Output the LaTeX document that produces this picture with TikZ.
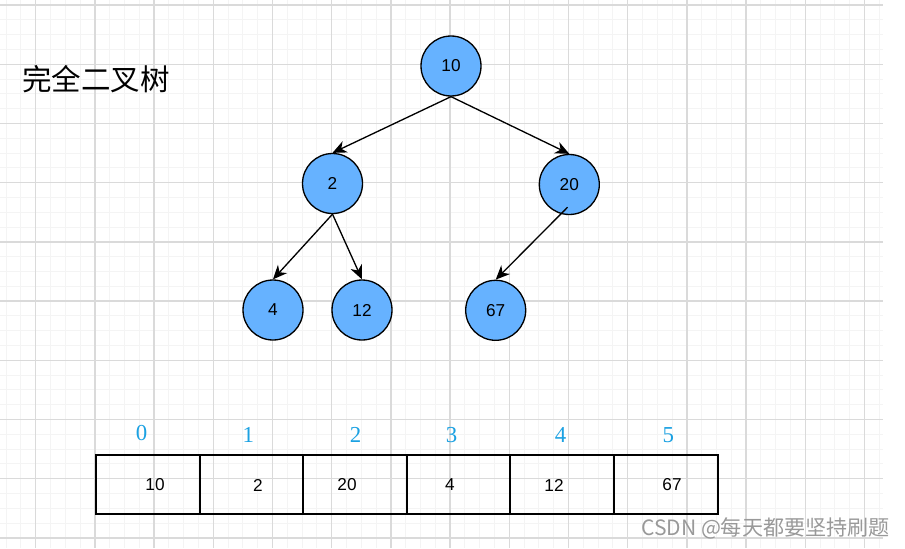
\documentclass[tikz,border=0pt]{standalone}
\usepackage{fontspec}
\setmainfont{Liberation Sans}
\newfontfamily\cjk{Noto Sans CJK SC}
\newfontfamily\idxfont{Liberation Serif}
\usepackage{xcolor}
\usepackage{tikz}
\usetikzlibrary{arrows.meta, positioning}
\definecolor{nodeblue}{HTML}{66B2FF}
\definecolor{idxblue}{HTML}{1BA1E2}
\definecolor{gridminor}{HTML}{F4F4F4}
\definecolor{gridmajor}{HTML}{DADADA}
\tikzset{
  minorline/.style={draw=gridminor, line width=0.5pt},
  majorline/.style={draw=gridmajor, line width=0.8pt},
  tnode/.style={draw, circle, fill=nodeblue, line width=0.75pt, minimum size=1.2cm, inner sep=0pt, font=\fontsize{9.8}{11}\selectfont},
  cell/.style={draw, line width=1.1pt, minimum width=2.072cm, minimum height=1.17cm, inner sep=0pt},
  val/.style={font=\fontsize{9.8}{11}\selectfont, inner sep=0pt},
  idx/.style={font=\idxfont\fontsize{13}{15}\selectfont, text=idxblue, inner sep=0pt},
  arr/.style={-{Stealth[length=8pt, width=7pt, inset=2.5pt]}, line width=0.75pt}
}
\begin{document}
\begin{tikzpicture}[x=0.02cm, y=-0.02cm]
    \useasboundingbox (0,0) rectangle (905,548);
    % grid
    \foreach \k in {-2,...,57}
      \draw[minorline] ({35.7+14.8*\k},0) -- ({35.7+14.8*\k},548);
    \foreach \k in {0,...,36}
      \draw[minorline] (0,{5+14.8*\k}) -- (883,{5+14.8*\k});
    \foreach \k in {0,...,14}
      \draw[majorline] ({35.7+59.2*\k},0) -- ({35.7+59.2*\k},548);
    \foreach \k in {0,...,9}
      \draw[majorline] (0,{5+59.2*\k}) -- (883,{5+59.2*\k});

    \node[font=\cjk\fontsize{16.8}{18}\selectfont, anchor=west, inner sep=0pt] (title) at (22,79) {完全二叉树};

    % tree
    \node[tnode] (n10) at (451,66) {10};
    \node[tnode] (n2) at (332.5,183.5) {2};
    \node[tnode, text depth=-2.5pt] (n20) at (569.3,184.5) {20};
    \node[tnode] (n4) at (273,310) {4};
    \node[tnode] (n12) at (362,310) {12};
    \node[tnode] (n67) at (495.7,310.3) {67};

    \draw[arr] (n10.south) -- (n2.north);
    \draw[arr] (n10.south) -- (n20.north);
    \draw[arr] (n2.south) -- (n4.north);
    \draw[arr] (n2.south) -- (n12.north);
    \draw[arr] ([xshift=-1pt, yshift=4.5pt]n20.south) -- (n67.north);

    % array
    \node[cell] (c0) at (147.8,484.5) {};
    \node[cell] (c1) at (251.4,484.5) {};
    \node[cell] (c2) at (355.0,484.5) {};
    \node[cell] (c3) at (458.6,484.5) {};
    \node[cell] (c4) at (562.2,484.5) {};
    \node[cell] (c5) at (665.8,484.5) {};

    \node[val] (v0) at (155,485) {10};
    \node[val] (v1) at (258,485) {2};
    \node[val] (v2) at (347,485) {20};
    \node[val] (v3) at (450,485) {4};
    \node[val] (v4) at (554,485) {12};
    \node[val] (v5) at (672,485) {67};

    \node[idx] (i0) at (141.7,432.7) {0};
    \node[idx] (i1) at (248.3,435) {1};
    \node[idx] (i2) at (355.7,435) {2};
    \node[idx] (i3) at (451.7,435) {3};
    \node[idx] (i4) at (560.7,435) {4};
    \node[idx] (i5) at (668.3,435) {5};

    \node[font=\cjk\fontsize{12}{14}\selectfont, text=black!40, anchor=east, inner sep=0pt] (mark) at (890,528) {CSDN @每天都要坚持刷题};
  \end{tikzpicture}
\end{document}
